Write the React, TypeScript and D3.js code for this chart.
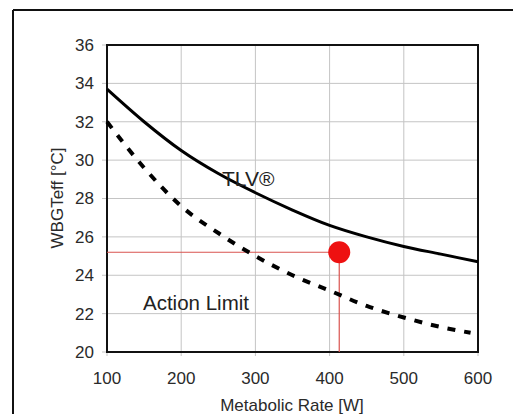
import React from 'react';
import * as d3 from 'd3';

const metabolicRate = [100, 150, 200, 250, 300, 350, 400, 450, 500, 550, 600];
const tlv = [33.7, 32.0, 30.5, 29.3, 28.3, 27.4, 26.6, 26.0, 25.5, 25.1, 24.7];
const actionRate = [100, 150, 200, 250, 300, 350, 400, 450, 500, 550, 590];
const actionLimit = [32.0, 29.6, 27.6, 26.2, 25.0, 24.0, 23.2, 22.4, 21.8, 21.3, 21.0];
const point = { rate: 413, wbgt: 25.2 };
const xTicks = [100, 200, 300, 400, 500, 600];
const yTicks = [20, 22, 24, 26, 28, 30, 32, 34, 36];

const W = 513;
const H = 414;
const m = { left: 107, right: 478, top: 45, bottom: 352 };

const App = () => {
  const x = d3.scaleLinear().domain([100, 600]).range([m.left, m.right]);
  const y = d3.scaleLinear().domain([20, 36]).range([m.bottom, m.top]);

  const line = d3.line<[number, number]>()
    .x(d => x(d[0]))
    .y(d => y(d[1]))
    .curve(d3.curveMonotoneX);

  const tlvPath = line(metabolicRate.map((r, i) => [r, tlv[i]]));
  const actionPath = line(actionRate.map((r, i) => [r, actionLimit[i]]));

  const font = 'Arial, "Liberation Sans", sans-serif';

  return (
    <svg width={W} height={H} style={{ position: 'absolute', left: 0, top: 0, background: '#fff' }}>
      {/* outer frame */}
      <line x1={13} y1={10} x2={W} y2={10} stroke="#111" strokeWidth={2} />
      <line x1={13} y1={10} x2={13} y2={H} stroke="#111" strokeWidth={2} />

      {/* grid */}
      {xTicks.map(t => (
        <line key={'gx' + t} x1={x(t)} x2={x(t)} y1={m.top} y2={m.bottom + 4} stroke="#c4c4c4" strokeWidth={1} />
      ))}
      {yTicks.map(t => (
        <line key={'gy' + t} x1={m.left - 5} x2={m.right} y1={y(t)} y2={y(t)} stroke="#c4c4c4" strokeWidth={1} />
      ))}

      {/* plot frame */}
      <rect x={m.left} y={m.top} width={m.right - m.left} height={m.bottom - m.top} fill="none" stroke="#111" strokeWidth={2} />

      {/* tick labels */}
      {yTicks.map(t => (
        <text key={'ty' + t} x={94} y={y(t)} dy="0.35em" textAnchor="end" fontFamily={font} fontSize={17} fill="#2a2a2a">{t}</text>
      ))}
      {xTicks.map(t => (
        <text key={'tx' + t} x={x(t)} y={378} dy="0.35em" textAnchor="middle" fontFamily={font} fontSize={17} fill="#2a2a2a">{t}</text>
      ))}

      {/* axis titles */}
      <text transform="translate(63,198) rotate(-90)" textAnchor="middle" fontFamily={font} fontSize={17} fill="#2a2a2a">WBGTeff [°C]</text>
      <text x={292} y={411} textAnchor="middle" fontFamily={font} fontSize={17} fill="#2a2a2a">Metabolic Rate [W]</text>

      {/* red reference lines */}
      <line x1={m.left} x2={x(point.rate)} y1={y(point.wbgt)} y2={y(point.wbgt)} stroke="#d9534f" strokeWidth={1.2} />
      <line x1={x(point.rate)} x2={x(point.rate)} y1={y(point.wbgt)} y2={m.bottom} stroke="#d9534f" strokeWidth={1.2} />

      {/* curves */}
      <path d={tlvPath ?? ''} fill="none" stroke="#000" strokeWidth={3} />
      <path d={actionPath ?? ''} fill="none" stroke="#000" strokeWidth={4} strokeDasharray="8 9" />

      <circle cx={x(point.rate)} cy={y(point.wbgt)} r={11} fill="#ee1111" />

      {/* labels */}
      <text x={222} y={186} fontFamily={font} fontSize={21} fill="#222">TLV®</text>
      <text x={143} y={310} fontFamily={font} fontSize={20.5} fill="#222">Action Limit</text>
    </svg>
  );
};

export default App;
